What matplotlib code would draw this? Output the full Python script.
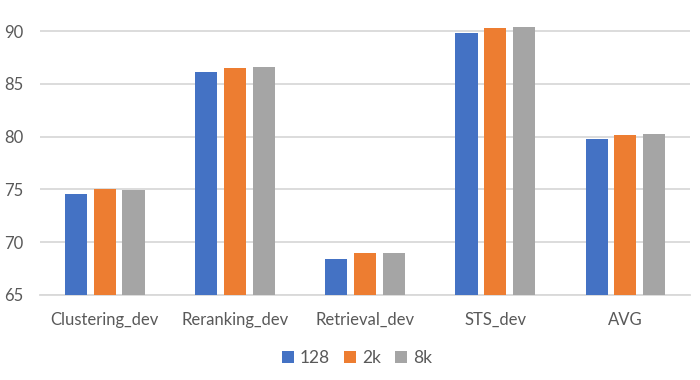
import matplotlib
matplotlib.use("Agg")
import matplotlib.pyplot as plt
import numpy as np

categories = ["Clustering_dev", "Reranking_dev", "Retrieval_dev", "STS_dev", "AVG"]
series_names = ["128", "2k", "8k"]
vals_128 = [74.6, 86.1, 68.4, 89.8, 79.8]
vals_2k = [75.05, 86.5, 69.0, 90.28, 80.15]
vals_8k = [74.95, 86.6, 69.0, 90.4, 80.25]
yticks = [65, 70, 75, 80, 85, 90]
colors = ["#4472C4", "#ED7D31", "#A5A5A5"]

plt.rcParams['font.family'] = ['Lato', 'DejaVu Sans']

fig = plt.figure(figsize=(7, 3.8), dpi=100)
ax = fig.add_axes([0.057, 0.2237, 0.929, 0.7763])

x = np.arange(len(categories))
w = 0.17
offs = [-0.22, 0.0, 0.22]
for vals, name, c, o in zip([vals_128, vals_2k, vals_8k], series_names, colors, offs):
    ax.bar(x + o, np.array(vals) - 65, width=w, bottom=65, color=c, label=name, zorder=3)

ax.set_xlim(-0.5, len(categories) - 0.5)
ax.set_ylim(65, 92.94)
ax.set_yticks(yticks)
ax.set_xticks(x)
ax.set_xticklabels(categories)
ax.grid(axis='y', color='#D9D9D9', linewidth=1.3, zorder=0)
for s in ['top', 'right', 'left']:
    ax.spines[s].set_visible(False)
ax.spines['bottom'].set_color('#D9D9D9')
ax.spines['bottom'].set_linewidth(1.3)
ax.tick_params(axis='both', length=0, labelsize=12, colors='#595959')
ax.tick_params(axis='x', pad=12)
ax.tick_params(axis='y', pad=12)

handles, labels = ax.get_legend_handles_labels()
fig.legend(handles, labels, loc='center', bbox_to_anchor=(0.51, 0.057), ncol=3,
           frameon=False, fontsize=12.5, handlelength=0.7, handleheight=0.7,
           handletextpad=0.35, columnspacing=0.8, labelcolor='#595959')

fig.savefig("out.png", dpi=100)
